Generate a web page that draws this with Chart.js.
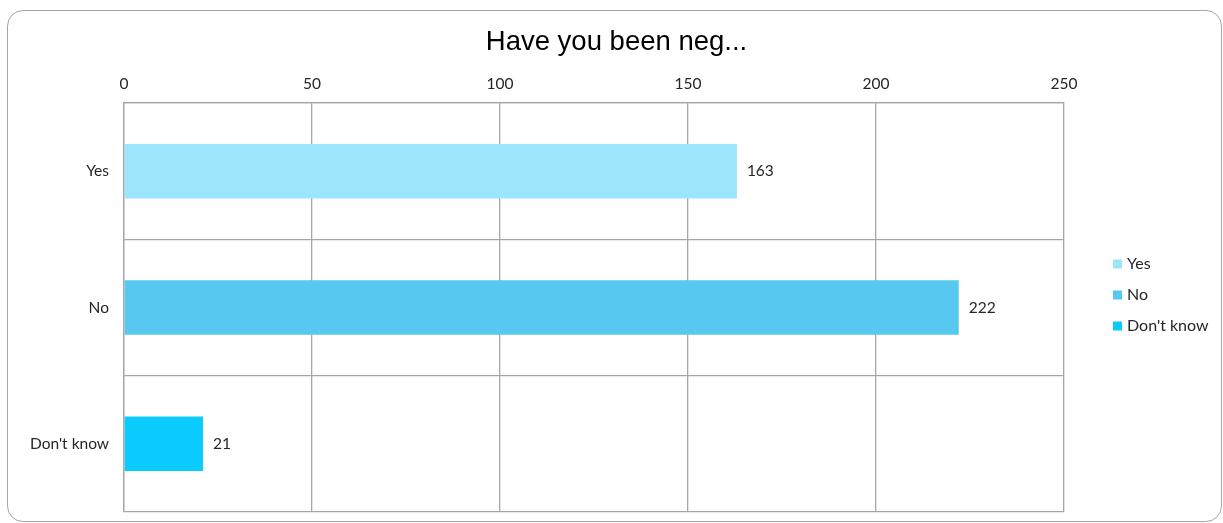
<!DOCTYPE html>
<html>
<head>
<meta charset="utf-8">
<script src="https://cdn.jsdelivr.net/npm/chart.js@4/dist/chart.umd.min.js"></script>
<style>
	body { margin: 0; background: #fff; }
	#card {
		position: absolute; left: 7px; top: 10px; width: 1213px; height: 510px;
		border: 1px solid #a6a6a6; border-radius: 16px;
	}
	#wrap { position: absolute; left: 0; top: 0; width: 1223px; height: 523px; }
</style>
</head>
<body>
<div id="card"></div>
<div id="wrap"><canvas id="myChart" width="1223" height="523"></canvas></div>
<script>
/* datos del grafico */
const categorias = ["Yes", "No", "Don't know"];
const valores = [163, 222, 21];
const colores = ["#9be5fd", "#57c8f0", "#0bcbfe"];
const ticksX = [0, 50, 100, 150, 200, 250];
const titulo = "Have you been neg...";

const fuente = "Lato, 'Open Sans', sans-serif";
const gris = "#a6a6a6";

// etiquetas de valor al final de cada barra
const etiquetas = {
	id: "etiquetas",
	afterDatasetsDraw(chart) {
		const c = chart.ctx;
		const meta = chart.getDatasetMeta(0);
		c.save();
		c.font = "15.5px " + fuente;
		c.fillStyle = "#262626";
		c.textBaseline = "middle";
		meta.data.forEach((bar, i) => {
			c.fillText(String(valores[i]), bar.x + 10, bar.y);
		});
		c.restore();
	}
};

// leyenda a la derecha
const leyenda = {
	id: "leyenda",
	afterDraw(chart) {
		const c = chart.ctx;
		c.save();
		c.font = "16px " + fuente;
		c.textBaseline = "middle";
		categorias.forEach((cat, i) => {
			const y = 264 + i * 31;
			c.fillStyle = colores[i];
			c.fillRect(1113, y - 4.5, 9, 9);
			c.fillStyle = "#262626";
			c.fillText(cat, 1127, y);
		});
		c.restore();
	}
};

const sinMargen = (axis) => {
	axis.paddingTop = 0;
	axis.paddingBottom = 0;
};

const ctx = document.getElementById("myChart").getContext("2d");
let myChart = new Chart(ctx, {
	type: "bar",
	data: {
		labels: categorias,
		datasets: [
			{
				label: titulo,
				data: valores,
				backgroundColor: colores,
				borderWidth: 0,
				barPercentage: 0.4,
				categoryPercentage: 1,
			},
		],
	},
	options: {
		indexAxis: "y",
		responsive: false,
		animation: false,
		layout: { padding: { left: 10, right: 0, top: 0, bottom: 11 } },
		plugins: {
			legend: { display: false },
			tooltip: { enabled: false },
			title: {
				display: true,
				text: titulo,
				color: "#000",
				font: { family: "'Liberation Sans', Arial, sans-serif", size: 27.5, weight: "normal" },
				padding: { top: 26, bottom: 10 },
			},
		},
		scales: {
			x: {
				position: "top",
				min: 0,
				max: 250,
				afterBuildTicks: (axis) => { axis.ticks = ticksX.map(v => ({ value: v })); },
				afterFit: (axis) => { axis.height = 34; },
				grid: { color: gris, lineWidth: 1.3, drawTicks: false },
				border: { color: gris, width: 1.3 },
				ticks: { color: "#262626", padding: 10, font: { family: fuente, size: 15.5 } },
			},
			y: {
				afterFit: (axis) => { axis.width = 114; sinMargen(axis); },
				grid: { color: gris, lineWidth: 1.3, drawTicks: false, offset: true },
				border: { color: gris, width: 1.3 },
				ticks: { color: "#262626", padding: 15, font: { family: fuente, size: 15.5 } },
			},
			// eje vacio que reserva el hueco de la leyenda
			hueco: {
				type: "linear",
				position: "right",
				afterFit: (axis) => { axis.width = 159; sinMargen(axis); },
				grid: { display: false },
				border: { display: false },
				ticks: { display: false },
			},
		},
	},
	plugins: [etiquetas, leyenda],
});
</script>
</body>
</html>
